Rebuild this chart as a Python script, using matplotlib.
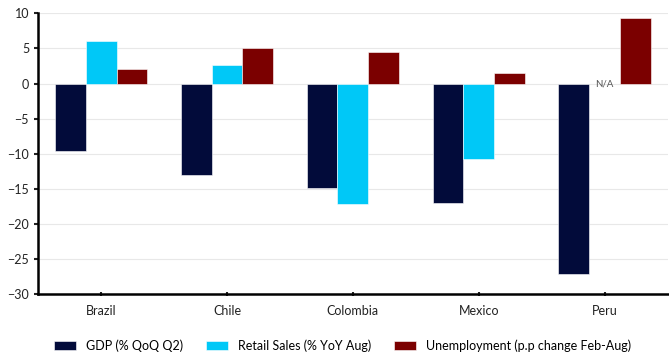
import numpy as np
import matplotlib.pyplot as plt

plt.rcParams['font.family'] = ['Lato', 'DejaVu Sans']

countries = ['Brazil', 'Chile', 'Colombia', 'Mexico', 'Peru']
gdp = [-9.6, -13.1, -14.9, -17.0, -27.2]
retail = [6.1, 2.7, -17.1, -10.7, np.nan]  # Peru not available
unemployment = [2.1, 5.0, 4.5, 1.5, 9.4]

series_labels = ['GDP (% QoQ Q2)', 'Retail Sales (% YoY Aug)',
                 'Unemployment (p.p change Feb-Aug)']
colors = ['#020b3a', '#00c8f7', '#7b0000']
yticks = [10, 5, 0, -5, -10, -15, -20, -25, -30]

fig = plt.figure(figsize=(6.69, 3.6), dpi=100)
ax = fig.add_axes([0.057, 0.183, 0.941, 0.78])

x = np.arange(len(countries))
w = 0.245
for i, (vals, lab, col) in enumerate(zip([gdp, retail, unemployment], series_labels, colors)):
    ax.bar(x + (i - 1) * w, vals, w, color=col, label=lab, zorder=3,
           edgecolor='white', linewidth=0.4)

# no retail figure for Peru
peru = countries.index('Peru')
ax.text(x[peru], 0, 'N/A', ha='center', va='center', fontsize=7, color='#555555')

ax.set_ylim(-30, 10)
ax.set_xlim(-0.5, len(countries) - 0.5)
ax.set_yticks(yticks)
ax.set_xticks(x)
ax.set_xticklabels(countries)
ax.yaxis.grid(True, color='#e8e8e8', linewidth=0.8, zorder=0)
for s in ['top', 'right']:
    ax.spines[s].set_visible(False)
for s in ['left', 'bottom']:
    ax.spines[s].set_linewidth(1.8)
ax.tick_params(axis='both', labelsize=9, colors='#222222', length=3, width=1.5)
ax.tick_params(axis='x', direction='inout', length=3, pad=6)

fig.legend(loc='center', bbox_to_anchor=(0.512, 0.039), ncol=3, frameon=False,
           fontsize=9, handlelength=1.76, handleheight=0.72, columnspacing=1.85,
           handletextpad=0.8)

fig.savefig('out.png', dpi=100)
